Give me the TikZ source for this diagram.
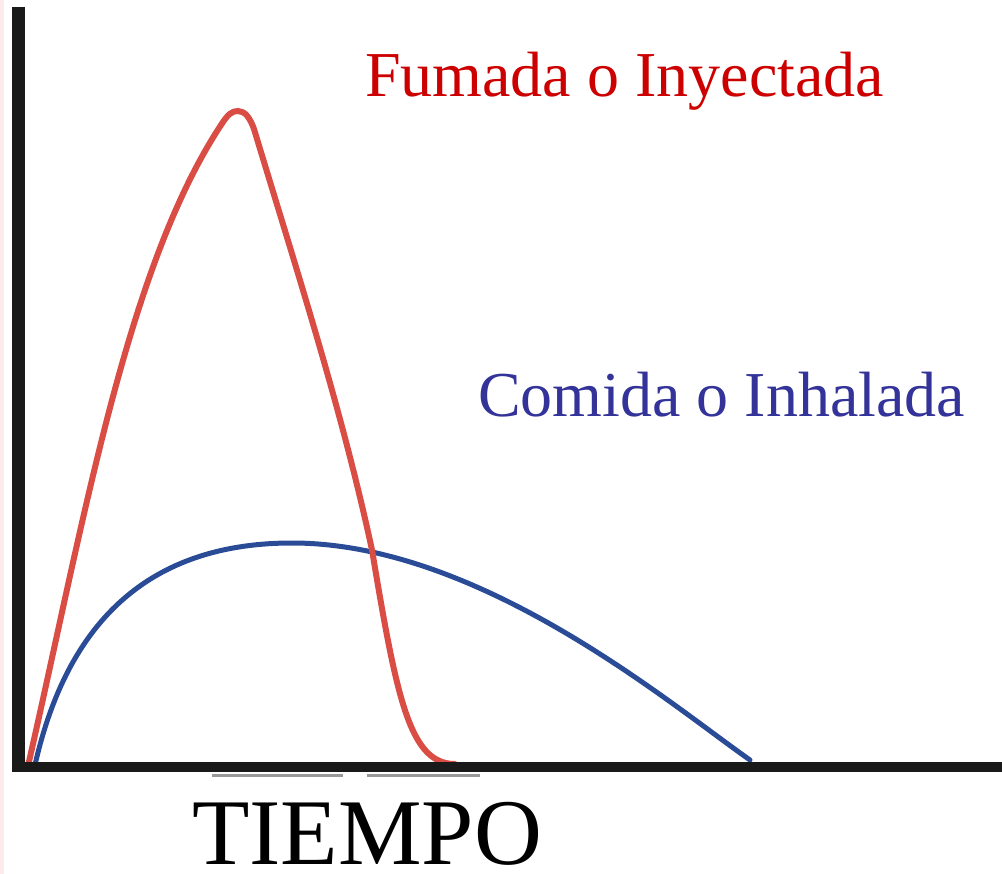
\documentclass[tikz,border=0pt]{standalone}
\usepackage{fontspec}
\setmainfont{Liberation Serif}
\definecolor{curvered}{RGB}{217,77,69}
\definecolor{curveblue}{RGB}{42,75,150}
\definecolor{textred}{RGB}{204,0,0}
\definecolor{textblue}{RGB}{51,51,153}
\definecolor{axisblack}{RGB}{26,26,26}
\begin{document}
\begin{tikzpicture}[x=1pt,y=-1pt,
  axisline/.style={draw=axisblack},
  redcurve/.style={draw=curvered,line width=6pt,line cap=round,line join=round},
  bluecurve/.style={draw=curveblue,line width=5pt,line cap=round,line join=round},
  label/.style={inner sep=0pt,anchor=base west}]
\useasboundingbox (0,0) rectangle (1002,874);
\fill[red!8] (0,0) rectangle (4,874);
% faint remnants under axis
\draw[black!40,line width=3pt] (212,775) -- (343,775);
\draw[black!40,line width=3pt] (367,775) -- (480,775);
% curves
\coordinate (bstart) at (35,765);
\coordinate (bpeak) at (292,543);
\coordinate (bend) at (750,760);
\draw[bluecurve] (bstart) .. controls (70,610) and (160,543) .. (bpeak)
  .. controls (480,543) and (670,704) .. (bend);
\coordinate (rstart) at (28,766);
\coordinate (rpeak) at (238,111);
\coordinate (rcross) at (372,550);
\coordinate (rend) at (455,764);
\draw[redcurve] (rstart) .. controls (85,516) and (127,268) .. (221,125)
  .. controls (228,114) and (232,111) .. (rpeak)
  .. controls (245,111) and (250,118) .. (254,129)
  .. controls (295,265) and (342,410) .. (rcross)
  .. controls (397,700) and (410,764) .. (rend);
% axes
\coordinate (ytop) at (18.5,7);
\coordinate (ybot) at (18.5,772);
\coordinate (xstart) at (12.25,767);
\coordinate (xend) at (1002,767);
\draw[axisline,line width=12.5pt] (ytop) -- (ybot);
\draw[axisline,line width=10pt] (xstart) -- (xend);
% labels
\node[label,text=textred,font=\fontsize{64}{64}\selectfont] (fumada) at (365,97) {Fumada o Inyectada};
\node[label,text=textblue,font=\fontsize{64}{64}\selectfont] (comida) at (478,417) {Comida o Inhalada};
\node[label,text=black,text depth=0pt,font=\fontsize{94}{94}\selectfont] (tiempo) at (192,864) {TIEMPO};
\end{tikzpicture}
\end{document}
